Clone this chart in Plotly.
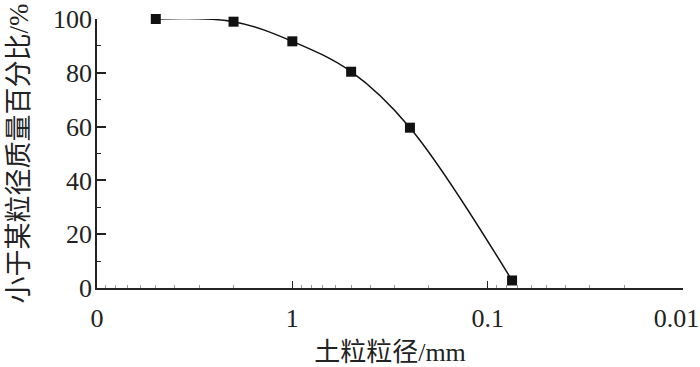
import plotly.graph_objects as go

# Data
particle_size_mm = [5, 2, 1, 0.5, 0.25, 0.075]
percent_finer = [100, 99, 91.7, 80.4, 59.6, 2.8]

x_tick_vals = [10, 1, 0.1, 0.01]
x_tick_text = ["0", "1", "0.1", "0.01\u00a0\u00a0"]
y_tick_vals = [0, 20, 40, 60, 80, 100]

x_minor_vals = [m * d for d in (0.01, 0.1, 1) for m in range(2, 10)]

FONT = "Liberation Serif, Times New Roman, Noto Sans CJK SC, serif"

fig = go.Figure()
fig.add_trace(go.Scatter(
    x=particle_size_mm, y=percent_finer,
    mode="lines+markers",
    line=dict(color="#111111", width=1.5, shape="spline", smoothing=1.0),
    marker=dict(symbol="square", size=10, color="#111111"),
    cliponaxis=False,
    showlegend=False,
))

fig.update_layout(
    width=700, height=367,
    margin=dict(l=97, r=17, t=19, b=79),
    paper_bgcolor="white", plot_bgcolor="white",
    font=dict(family=FONT, size=26, color="#222222"),
    xaxis=dict(
        type="log", range=[1, -2], automargin=False,
        tickmode="array", tickvals=x_tick_vals, ticktext=x_tick_text,
        ticks="inside", ticklen=7, tickwidth=1.2, tickcolor="#222222",
        minor=dict(tickvals=x_minor_vals, ticks="inside", ticklen=3,
                   tickcolor="#999999", tickwidth=1, showgrid=False),
        showline=True, linecolor="#222222", linewidth=1.8,
        showgrid=False, zeroline=False,
        ticklabeloverflow="allow", ticklabelstandoff=6,
        title=dict(text="土粒粒径/mm", standoff=12,
                   font=dict(family=FONT, size=26)),
        tickfont=dict(family=FONT, size=26),
    ),
    yaxis=dict(
        range=[0, 100], automargin=False,
        tickmode="array", tickvals=y_tick_vals,
        ticks="inside", ticklen=9, tickwidth=1.5, tickcolor="#222222",
        minor=dict(tickvals=[10, 30, 50, 70, 90], ticks="inside", ticklen=4,
                   tickcolor="#222222", tickwidth=1.2, showgrid=False),
        showline=True, linecolor="#222222", linewidth=1.8,
        showgrid=False, zeroline=False,
        ticklabeloverflow="allow", ticklabelstandoff=-2,
        title=dict(text="小于某粒径质量百分比/%", standoff=16,
                   font=dict(family=FONT, size=27)),
        tickfont=dict(family=FONT, size=26),
    ),
)

# remove the default 8px page margin so the 700x367 figure fills the window
fig.write_html("out.html", config={"displayModeBar": False},
               post_script="document.body.style.margin='0';")
